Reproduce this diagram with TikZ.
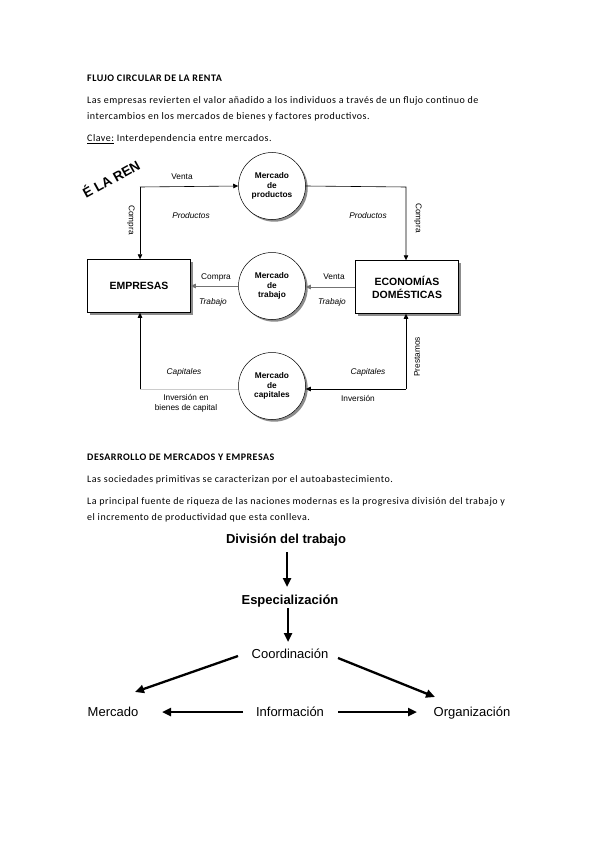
\documentclass[tikz,border=0pt]{standalone}
\usepackage{fontspec}
\setmainfont{Carlito}[LetterSpace=5]
\newfontfamily\arialf{Liberation Sans}
\usetikzlibrary{arrows.meta,shadows}
\begin{document}
\begin{tikzpicture}[x=1pt,y=-1pt,
  body/.style={anchor=base west,inner sep=0pt,font=\fontsize{10}{11}\selectfont},
  bodyb/.style={body,font=\fontsize{10}{11}\selectfont\bfseries},
  mkt/.style={circle,draw=black,line width=0.5pt,fill=white,minimum size=67pt,inner sep=0pt,align=center,
     font=\arialf\fontsize{8.3}{9.5}\selectfont\bfseries,
     drop shadow={shadow xshift=2.2pt,shadow yshift=-2.2pt,fill=black!45,opacity=1}},
  agent/.style={rectangle,draw=black,line width=0.5pt,fill=white,minimum width=103pt,minimum height=53pt,align=center,
     font=\arialf\fontsize{10.5}{13}\selectfont\bfseries,
     drop shadow={shadow xshift=2.5pt,shadow yshift=-2.5pt,fill=black!45,opacity=1}},
  lbl/.style={inner sep=0pt,font=\arialf\fontsize{8.3}{10}\selectfont},
  lbli/.style={inner sep=0pt,font=\arialf\fontsize{8.3}{10}\selectfont\itshape},
  flow/.style={line width=0.6pt,-{Triangle[length=5pt,width=4.5pt]}},
  flowg/.style={flow,draw=black!55},
  big/.style={inner sep=0pt,anchor=base,font=\arialf\fontsize{13}{15}\selectfont},
  bigb/.style={big,font=\arialf\fontsize{13}{15}\selectfont\bfseries},
  thick arrow/.style={line width=2.3pt,-{Triangle[length=9pt,width=8pt]}}
]
\useasboundingbox (0,0) rectangle (599,848);
\fill[white] (0,0) rectangle (599,848);

% ---- text section 1
\node[bodyb] (t1) at (87,82) {FLUJO CIRCULAR DE LA RENTA};
\node[body] (p1) at (87,104) {Las empresas revierten el valor añadido a los individuos a través de un flujo continuo de};
\node[body] (p2) at (87,120) {intercambios en los mercados de bienes y factores productivos.};
\node[body] (p3) at (87,142) {\underline{Clave:} Interdependencia entre mercados.};

% ---- diagonal fragment
\node[inner sep=0pt,anchor=base west,rotate=29,font=\arialf\fontsize{13.5}{15}\selectfont\bfseries] (frag) at (86,199) {É LA REN};

% ---- diagram
\node[mkt] (mp) at (272,186) {Mercado\\de\\productos};
\node[mkt] (mt) at (272,286) {Mercado\\de\\trabajo};
\node[mkt] (mc) at (272,386) {Mercado\\de\\capitales};
\node[agent] (emp) at (139,286) {EMPRESAS};
\node[agent] (eco) at (407,287) {ECONOMÍAS\\DOMÉSTICAS};

\coordinate (c1) at (140,187);
\coordinate (c2) at (406,187);
\coordinate (c3) at (406,389);
\coordinate (c4) at (140,389);

\draw[flow] (c1) -- (mp.west);
\draw[flow] (c1) -- (c1 |- emp.north);
\draw[flow] (mp.east) -- (c2) -- (c2 |- eco.north);
\draw[flowg] (eco.west) -- (mt.east |- eco.west);
\draw[flowg] (mt.west) -- (emp.east);
\draw[flow] (c3) -- (c3 |- eco.south);
\draw[flow] (c3) -- (mc.east |- c3);
\draw[draw=black!20,line width=0.6pt] (mc.west |- c4) -- (c4);
\draw[flow] (c4) -- (c4 |- emp.south);

\node[lbl] (l1) at (182,177) {Venta};
\node[lbl,rotate=-90] (l2) at (131,220) {Compra};
\node[lbli] (l3) at (191,216) {Productos};
\node[lbli] (l4) at (368,216) {Productos};
\node[lbl,rotate=-90] (l5) at (418,218) {Compra};
\node[lbl] (l6) at (216,277) {Compra};
\node[lbli] (l7) at (213,302) {Trabajo};
\node[lbl] (l8) at (334,277) {Venta};
\node[lbli] (l9) at (332,302) {Trabajo};
\node[lbli] (l10) at (184,372) {Capitales};
\node[lbl,align=center] (l11) at (186,403) {Inversión en\\bienes de capital};
\node[lbli] (l12) at (368,372) {Capitales};
\node[lbl] (l13) at (358,398) {Inversión};
\node[lbl,rotate=90] (l14) at (417,357) {Prestamos};

% ---- text section 2
\node[bodyb] (t2) at (87,460) {DESARROLLO DE MERCADOS Y EMPRESAS};
\node[body] (q1) at (87,482) {Las sociedades primitivas se caracterizan por el autoabastecimiento.};
\node[body] (q2) at (87,504) {La principal fuente de riqueza de las naciones modernas es la progresiva división del trabajo y};
\node[body] (q3) at (87,520) {el incremento de productividad que esta conlleva.};

% ---- flow chart
\node[bigb] (dt) at (286,543) {División del trabajo};
\node[bigb] (es) at (290,604) {Especialización};
\node[big] (co) at (290,658) {Coordinación};
\node[big] (me) at (113,716) {Mercado};
\node[big] (in) at (290,716) {Información};
\node[big] (or) at (472,716) {Organización};

\coordinate (a1s) at (287,552);
\coordinate (a1e) at (287,587);
\coordinate (a2s) at (288,608);
\coordinate (a2e) at (288,642);
\coordinate (a3s) at (238,656);
\coordinate (a3e) at (135,692);
\coordinate (a4s) at (338,658);
\coordinate (a4e) at (435,697);
\coordinate (a5s) at (243,712);
\coordinate (a5e) at (162,712);
\coordinate (a6s) at (338,712);
\coordinate (a6e) at (417,712);

\draw[thick arrow] (a1s) -- (a1e);
\draw[thick arrow] (a2s) -- (a2e);
\draw[thick arrow] (a3s) -- (a3e);
\draw[thick arrow] (a4s) -- (a4e);
\draw[thick arrow] (a5s) -- (a5e);
\draw[thick arrow] (a6s) -- (a6e);
\end{tikzpicture}
\end{document}
